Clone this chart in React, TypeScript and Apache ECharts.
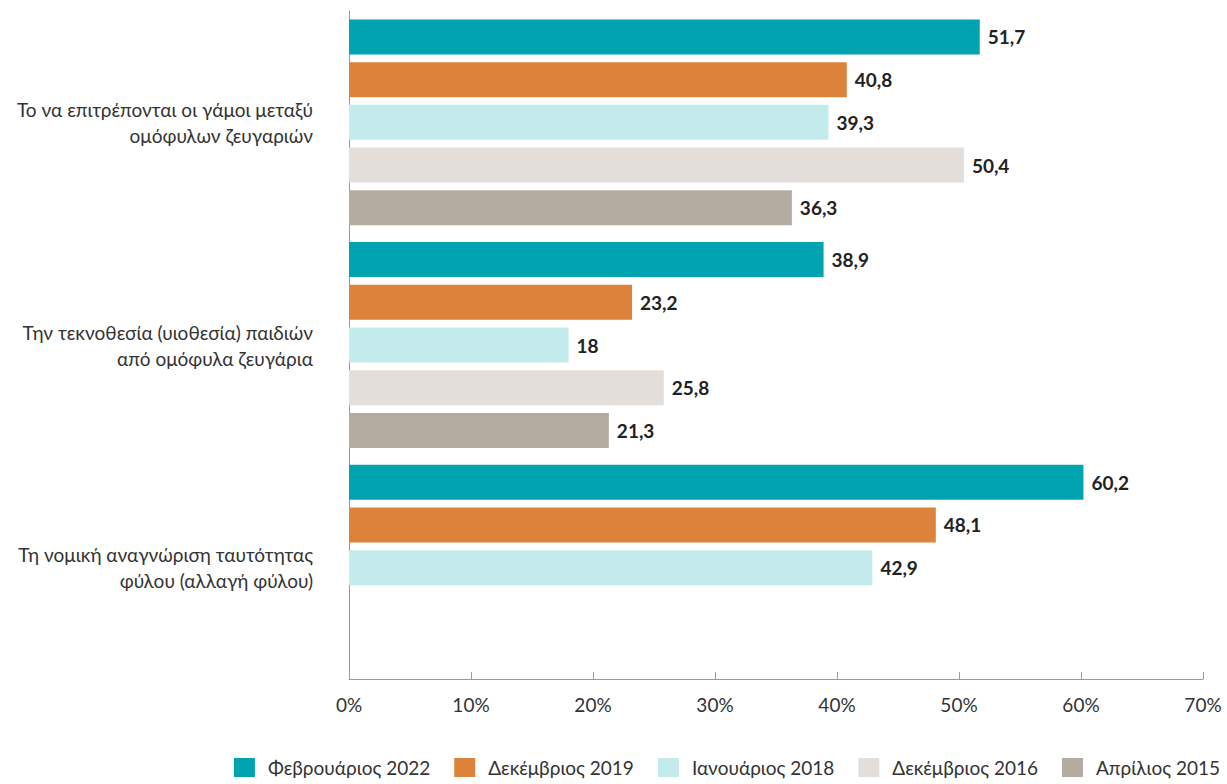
import React, { useEffect, useRef } from "react";
import * as echarts from "echarts";

const categories = [
  "Το να επιτρέπονται οι γάμοι μεταξύ\nομόφυλων ζευγαριών",
  "Την τεκνοθεσία (υιοθεσία) παιδιών\nαπό ομόφυλα ζευγάρια",
  "Τη νομική αναγνώριση ταυτότητας\nφύλου (αλλαγή φύλου)",
];

const seriesNames = [
  "Φεβρουάριος 2022",
  "Δεκέμβριος 2019",
  "Ιανουάριος 2018",
  "Δεκέμβριος 2016",
  "Απρίλιος 2015",
];

const feb2022 = [51.7, 38.9, 60.2];
const dec2019 = [40.8, 23.2, 48.1];
const jan2018 = [39.3, 18, 42.9];
const dec2016 = [50.4, 25.8, null];
const apr2015 = [36.3, 21.3, null];

const seriesValues = [feb2022, dec2019, jan2018, dec2016, apr2015];
const colors = ["#00A4B1", "#DD823A", "#C4EBEB", "#E3DEDA", "#B4ACA1"];

const xTicks = { min: 0, max: 70, interval: 10 };

const FONT = "Lato, 'Noto Sans', sans-serif";

export default function App() {
  const ref = useRef<HTMLDivElement>(null);
  useEffect(() => {
    if (!ref.current) return;
    const chart = echarts.init(ref.current, undefined, { renderer: "svg" });
    chart.setOption({
      animation: false,
      textStyle: { fontFamily: FONT },
      grid: { left: 349, right: 24, top: 11, bottom: 105, containLabel: false },
      legend: {
        bottom: 2,
        right: 2,
        icon: "rect",
        itemWidth: 21,
        itemHeight: 19,
        itemGap: 24,
        textStyle: { fontSize: 19, color: "#333", fontFamily: FONT, padding: [0, 0, 0, 8] },
        data: seriesNames,
      },
      xAxis: {
        type: "value",
        min: xTicks.min,
        max: xTicks.max,
        interval: xTicks.interval,
        axisLine: { show: true, lineStyle: { color: "#999", width: 1 } },
        axisTick: { show: true, inside: true, length: 7, lineStyle: { color: "#999" } },
        splitLine: { show: false },
        axisLabel: {
          formatter: "{value}%",
          fontSize: 19,
          color: "#333",
          margin: 16,
          fontFamily: FONT,
        },
      },
      yAxis: {
        type: "category",
        inverse: true,
        data: categories,
        axisLine: { show: true, lineStyle: { color: "#999", width: 1 } },
        axisTick: { show: false },
        axisLabel: {
          fontSize: 19,
          color: "#333",
          margin: 36,
          lineHeight: 26,
          padding: [6, 0, 0, 0],
          align: "right",
          fontFamily: FONT,
        },
      },
      series: seriesNames.map((name, i) => ({
        name,
        type: "bar",
        data: seriesValues[i],
        barWidth: 35,
        barGap: "22%",
        itemStyle: { color: colors[i] },
        label: {
          show: true,
          position: "right",
          distance: 8,
          fontSize: 19,
          fontWeight: "bold",
          color: "#222",
          fontFamily: FONT,
          formatter: (p: any) =>
            p.value == null ? "" : String(p.value).replace(".", ","),
        },
      })),
    });
    return () => chart.dispose();
  }, []);
  return <div ref={ref} style={{ width: 1227, height: 784, position: "absolute", left: 0, top: 0 }} />;
}
